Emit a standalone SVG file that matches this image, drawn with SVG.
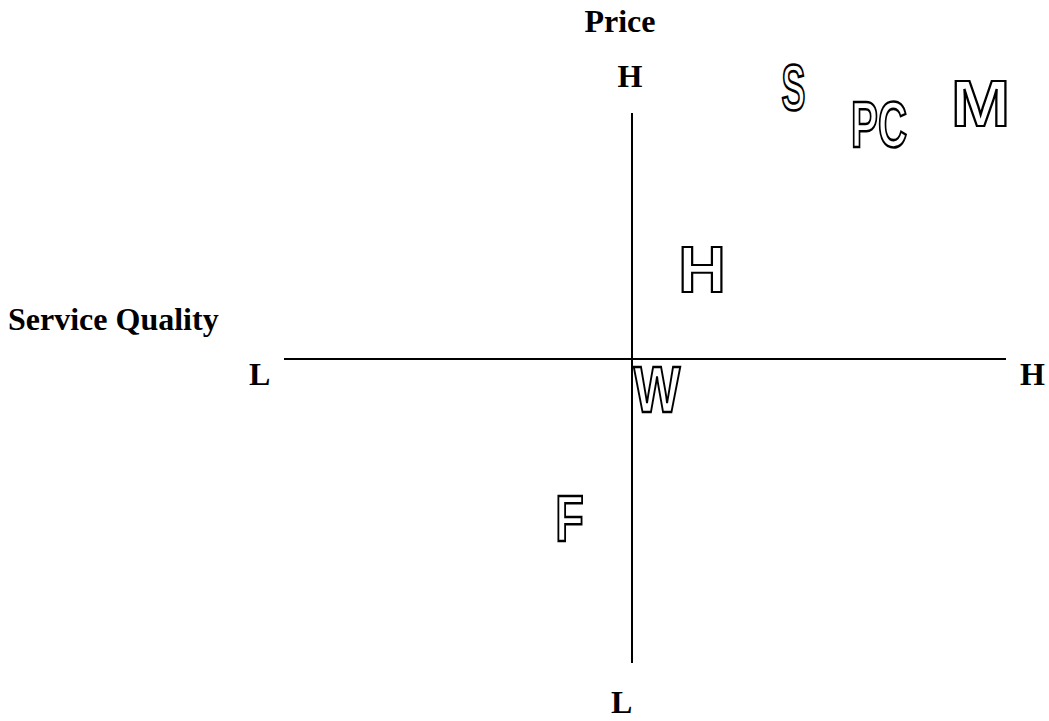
<svg xmlns="http://www.w3.org/2000/svg" width="1049" height="721" viewBox="0 0 1049 721">
<style>
.lbl{font-family:"Liberation Serif","Times New Roman",serif;font-weight:bold;font-size:32px;fill:#000}
.big{font-family:"Liberation Sans",Arial,sans-serif;font-weight:bold;font-size:64px;fill:#fff;stroke:#000;stroke-width:2.2;text-anchor:middle;vector-effect:non-scaling-stroke}
.axis{stroke:#000;stroke-width:2;fill:none}
</style>
<rect width="1049" height="721" fill="#fff"/>
<g id="connectors">
<line class="axis" x1="632" y1="113" x2="632" y2="663"/>
<line class="axis" x1="284" y1="359" x2="1006" y2="359"/>
</g>
<g id="labels">
<text class="lbl" x="620" y="32" text-anchor="middle">Price</text>
<text class="lbl" x="630" y="87" text-anchor="middle">H</text>
<text class="lbl" x="8" y="330">Service Quality</text>
<text class="lbl" x="249" y="385">L</text>
<text class="lbl" x="1020" y="385">H</text>
<text class="lbl" x="611" y="713">L</text>
</g>
<g id="node-S"><text class="big" transform="translate(793.5,110) scale(0.56,1)">S</text></g>
<g id="node-PC"><text class="big" transform="translate(879,147) scale(0.63,1)">PC</text></g>
<g id="node-M"><text class="big" transform="translate(980.5,126) scale(1.11,1)">M</text></g>
<g id="node-H"><text class="big" transform="translate(702,292) scale(1.03,1)">H</text></g>
<g id="node-W"><text class="big" transform="translate(657,412) scale(0.77,1)">W</text></g>
<g id="node-F"><text class="big" transform="translate(569.5,541) scale(0.73,1)">F</text></g>
</svg>
